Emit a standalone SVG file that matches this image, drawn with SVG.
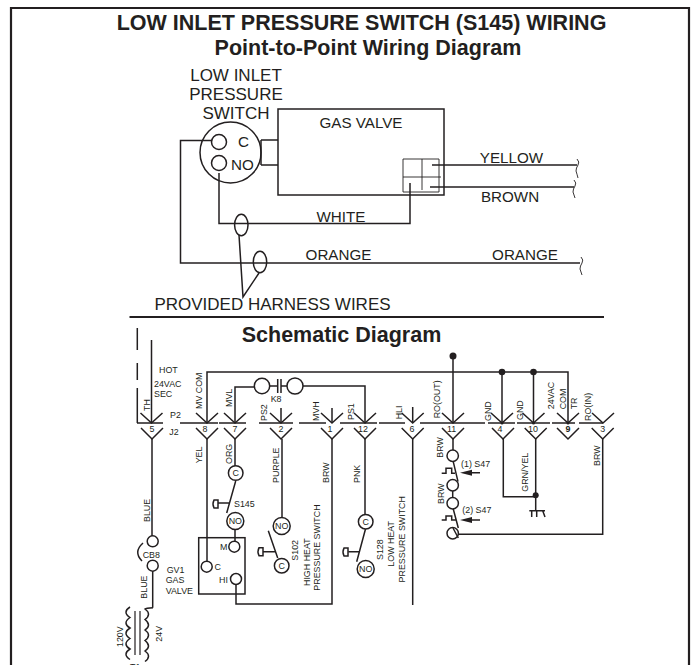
<svg xmlns="http://www.w3.org/2000/svg" width="691" height="665" viewBox="0 0 691 665">
<style>
text{font-family:"Liberation Sans",Arial,sans-serif;fill:#231f20}
.w{fill:none;stroke:#231f20;stroke-width:1.5}
.t{fill:none;stroke:#231f20;stroke-width:.9}
.c{fill:#fff;stroke:#231f20;stroke-width:1.5}
.l{font-size:15.200px}
.h{font-size:17px}
.s{font-size:8.900px}
.b{font-weight:bold;font-size:21.500px}
.d{fill:#231f20}
.a{text-anchor:middle}
</style>
<defs>
<path id="vu" class="w" d="M-11 -10L0 0L11 -10"/>
<path id="vd" class="w" d="M-11 -11L0 0L11 -11"/>
<path id="act" class="w" d="M0 0V8H-4Q-6 4 -4 0Z"/>
</defs>
<rect width="691" height="665" fill="#fff"/>
<path id="frame" fill="none" stroke="#231f20" stroke-width="2.200" d="M11 665V8H689V665"/>
<g id="titles">
<text class="b a" x="361.500" y="30">LOW INLET PRESSURE SWITCH (S145) WIRING</text>
<text class="b a" x="368" y="55">Point-to-Point Wiring Diagram</text>
<text class="b a" x="341.500" y="342">Schematic Diagram</text>
</g>
<g id="pressure-switch">
<text class="h a" x="236" y="81">LOW INLET</text>
<text class="h a" x="236" y="100">PRESSURE</text>
<text class="h a" x="236" y="119">SWITCH</text>
<circle class="w" cx="230.500" cy="152.500" r="30.500"/>
<circle class="w" cx="219" cy="142" r="7.500"/>
<circle class="w" cx="219" cy="163" r="7.500"/>
<text class="l" x="238" y="147">C</text>
<text class="l" x="231" y="170">NO</text>
<path class="w" d="M261 140H278M261 165H278M261 140V165" stroke-width="2"/>
</g>
<g id="gas-valve">
<rect class="w" x="278" y="109" width="166" height="86"/>
<text class="l a" x="361" y="128">GAS VALVE</text>
<path class="t" d="M403 159H439V192H403ZM422 159V190M403 177H441"/>
</g>
<g id="harness-wires">
<path class="w" d="M219 173V223.500H410V183"/>
<path class="w" d="M212 140.500H180.500V263H580"/>
<path class="w" d="M432 165H577M430 187H574"/>
<path class="t" d="M577 159q3 3 1 6t-2 6q1 3 2 7M574 180q3 3 1 6t-2 6q1 3 2 6M581 257q3 3 1 6t-2 6q1 3 2 6"/>
<ellipse class="w" cx="241.300" cy="225" rx="6.700" ry="10.700"/>
<ellipse class="w" cx="260" cy="262" rx="6.700" ry="10.700"/>
<path class="w" d="M239 235L243 297L259 273"/>
<path class="w" style="stroke-width:2" d="M129.500 317H604"/>
</g>
<g id="wire-labels">
<text class="l a" x="341" y="222">WHITE</text>
<text class="l a" x="338.500" y="260">ORANGE</text>
<text class="l a" x="511.500" y="163">YELLOW</text>
<text class="l a" x="510" y="202">BROWN</text>
<text class="l a" x="525" y="260">ORANGE</text>
<text class="h a" x="272.500" y="310">PROVIDED HARNESS WIRES</text>
</g>
<g id="connectors">
<path class="w" d="M137.300 328V350M137.300 363V380M137.300 388V423"/>
<path class="w" d="M137 423H163M180 423H218M219 423H246M259 423H293M299 423H326M340 423H377M379 423H405M420 423H485M488 423H515M517 423H550M552 423H575M579 423H603"/>
<path class="w" d="M151.500 340V423M281 408V423M332 408V423M412.700 407V423M453 356V423M502 372V423M533.500 372V423M207 423V372H568V423M235 423V387H254M270 386H277M287 386H281M303 386H365V423"/>
<path class="w" d="M152 439V536M152.700 571V607.700M207 439V561M235 439V466M235 529.500V541M282 439V518M332 439V604H236V584M365 439V514.500M412.700 439V605M453 439V450M503.300 439V496.700H535.700M535.700 439V510.700M602.700 439V534.300H458"/>
<path class="w" d="M235.700 481L226.700 513M218 503H229M268.300 530.700L277.700 558M263 551.700H275M365.500 529L356.700 561.700M348.300 551.700H360M453 460.700L458 481.700M453 508L458.300 528M441.700 473.300H446V468.300H451.700V473.300H455M441.700 520H446V516H451.700V520H456"/>
<path class="w" d="M277.700 379V393M281 379V393M529.300 510.700H545M531.700 510.700V517M536.700 510.700V517M542.700 510.700L545 517"/>
<path class="w" d="M143 543Q133 552 142 561"/>
<path class="w" d="M153 607.700Q146 608 145 609Q152 614 145 619.500Q152 625 145 630Q152 635 145 640.500Q152 646 145 651Q152 656 145 661.500"/>
<path class="w" d="M130 607Q122 612 130 617.500Q122 623 130 628Q122 633 130 638.500Q122 644 130 649Q122 654 130 659.500"/>
<path class="w" style="stroke-width:1.200" d="M135 611V655M140 611V655"/>
<path class="w" d="M470 472.700H480M470 520H480"/>
<polygon class="d" points="460,472.700 472,469.700 472,475.700"/>
<polygon class="d" points="460,520 472,517 472,523"/>
<use href="#act" x="218" y="500"/>
<use href="#act" x="263" y="547.700"/>
<use href="#act" x="348" y="548"/>
<circle class="d" cx="453" cy="356" r="3.500"/>
<circle class="d" cx="502" cy="372" r="3.300"/>
<circle class="d" cx="533.500" cy="372" r="3.300"/>
<circle class="d" cx="535.700" cy="495.300" r="3"/>
<circle class="d" cx="502" cy="423" r="1.500"/>
<circle class="d" cx="533.500" cy="423" r="1.500"/>
<circle class="d" cx="568" cy="423" r="1.500"/>
<use href="#vu" x="151.500" y="423"/><use href="#vu" x="207" y="423"/><use href="#vu" x="235" y="423"/><use href="#vu" x="281" y="423"/><use href="#vu" x="332" y="423"/><use href="#vu" x="365" y="423"/><use href="#vu" x="412.700" y="423"/><use href="#vu" x="453" y="423"/><use href="#vu" x="502" y="423"/><use href="#vu" x="533.500" y="423"/><use href="#vu" x="568" y="423"/><use href="#vu" x="603" y="423"/>
<use href="#vd" x="152" y="439"/><use href="#vd" x="207" y="439"/><use href="#vd" x="235" y="439"/><use href="#vd" x="281" y="439"/><use href="#vd" x="332" y="439"/><use href="#vd" x="365" y="439"/><use href="#vd" x="412.700" y="439"/><use href="#vd" x="453" y="439"/><use href="#vd" x="503" y="439"/><use href="#vd" x="535.700" y="439"/><use href="#vd" x="568" y="439"/><use href="#vd" x="602.700" y="439"/>
</g>
<g id="relay-k8"><circle class="c" cx="262" cy="386" r="7.700"/><circle class="c" cx="295" cy="386" r="8"/><text class="s" x="270.700" y="401.700">K8</text></g>
<g id="s145"><circle class="c" cx="235.700" cy="473" r="7.300"/><text class="s a" x="235.700" y="476.200">C</text><circle class="c" cx="235.300" cy="521" r="8.500"/><text class="s a" x="235.300" y="524.200">NO</text><text class="s" x="234" y="506.700">S145</text></g>
<g id="s102"><circle class="c" cx="281.700" cy="526" r="8.500"/><text class="s a" x="281.700" y="529.200">NO</text><circle class="c" cx="281.700" cy="565.700" r="7.300"/><text class="s a" x="281.700" y="568.900">C</text></g>
<g id="s128"><circle class="c" cx="365.700" cy="521.700" r="7.300"/><text class="s a" x="365.700" y="524.900">C</text><circle class="c" cx="365.700" cy="569" r="8.500"/><text class="s a" x="365.700" y="572.200">NO</text></g>
<g id="gv1">
<rect class="w" x="198.700" y="537.700" width="46.300" height="56.300"/>
<circle class="c" cx="234.300" cy="546.700" r="5.500"/><circle class="c" cx="206.700" cy="566.700" r="5.500"/><circle class="c" cx="236" cy="579" r="5.500"/>
<text class="s" x="220" y="550">M</text><text class="s" x="214.500" y="570">C</text><text class="s" x="219" y="583">HI</text>
<text class="s" x="166.700" y="573.300">GV1</text><text class="s" x="165.700" y="583.300">GAS</text><text class="s" x="165.700" y="594.300">VALVE</text>
</g>
<g id="cb8"><circle class="c" cx="152.700" cy="541.300" r="5.500"/><circle class="c" cx="152.700" cy="565.700" r="5.500"/><text class="s" x="142.700" y="557.700">CB8</text></g>
<g id="s47">
<circle class="c" cx="452.700" cy="455.700" r="5.700"/><circle class="c" cx="452.700" cy="485.300" r="5.700"/><circle class="c" cx="452.700" cy="503.300" r="5.700"/><circle class="c" cx="452.700" cy="533.300" r="5.700"/>
<path class="w" d="M452.700 491V497.600M453 528L458.300 538"/>
<text class="s" x="461" y="467.300">(1) S47</text><text class="s" x="462.300" y="513.300">(2) S47</text>
</g>
<g id="schematic-labels">
<text class="s" x="159" y="373">HOT</text><text class="s" x="154" y="386.700">24VAC</text><text class="s" x="154" y="397">SEC</text>
<text class="s" x="170" y="418.300">P2</text><text class="s" x="169.300" y="435">J2</text>
<text class="s a" x="152" y="432.300">5</text><text class="s a" x="205" y="432.300">8</text><text class="s a" x="235" y="432.300">7</text><text class="s a" x="281" y="432.300">2</text><text class="s a" x="330" y="432.300">1</text><text class="s a" x="363" y="432.300">12</text><text class="s a" x="412" y="432.300">6</text><text class="s a" x="451.500" y="432.300">11</text><text class="s a" x="500" y="432.300">4</text><text class="s a" x="533" y="432.300">10</text><text class="s a" x="568" y="432.300" font-weight="bold">9</text><text class="s a" x="602.700" y="432.300">3</text>
<text class="s" transform="rotate(-90 149.500 411)" x="149.500" y="411">TH</text>
<text class="s" transform="rotate(-90 201.700 409)" x="201.700" y="409">MV COM</text>
<text class="s" transform="rotate(-90 231.700 407)" x="231.700" y="407">MVL</text>
<text class="s" transform="rotate(-90 266.700 421)" x="266.700" y="421">PS2</text>
<text class="s" transform="rotate(-90 318.700 421)" x="318.700" y="421">MVH</text>
<text class="s" transform="rotate(-90 353.700 420)" x="353.700" y="420">PS1</text>
<text class="s" transform="rotate(-90 402.300 419.300)" x="402.300" y="419.300">HLI</text>
<text class="s" transform="rotate(-90 439.700 418.300)" x="439.700" y="418.300">RO(OUT)</text>
<text class="s" transform="rotate(-90 490.700 421)" x="490.700" y="421">GND</text>
<text class="s" transform="rotate(-90 523 420)" x="523" y="420">GND</text>
<text class="s" transform="rotate(-90 554.500 409.300)" x="554.500" y="409.300">24VAC</text>
<text class="s" transform="rotate(-90 565.700 409.300)" x="565.700" y="409.300">COM</text>
<text class="s" transform="rotate(-90 576.700 409.300)" x="576.700" y="409.300">TR</text>
<text class="s" transform="rotate(-90 590.500 421)" x="590.500" y="421">RO(IN)</text>
<text class="s" transform="rotate(-90 150 522)" x="150" y="522">BLUE</text>
<text class="s" transform="rotate(-90 147.500 598.700)" x="147.500" y="598.700">BLUE</text>
<text class="s" transform="rotate(-90 201.700 463.300)" x="201.700" y="463.300">YEL</text>
<text class="s" transform="rotate(-90 231.700 464)" x="231.700" y="464">ORG</text>
<text class="s" transform="rotate(-90 279 483)" x="279" y="483">PURPLE</text>
<text class="s" transform="rotate(-90 329.300 483)" x="329.300" y="483">BRW</text>
<text class="s" transform="rotate(-90 360 483)" x="360" y="483">PNK</text>
<text class="s" transform="rotate(-90 298.300 560.700)" x="298.300" y="560.700">S102</text>
<text class="s" transform="rotate(-90 310 586)" x="310" y="586">HIGH HEAT</text>
<text class="s" transform="rotate(-90 320.300 590.700)" x="320.300" y="590.700">PRESSURE SWITCH</text>
<text class="s" transform="rotate(-90 382.700 560)" x="382.700" y="560">S128</text>
<text class="s" transform="rotate(-90 394.300 566.700)" x="394.300" y="566.700">LOW HEAT</text>
<text class="s" transform="rotate(-90 405 582.400)" x="405" y="582.400">PRESSURE SWITCH</text>
<text class="s" transform="rotate(-90 443 457.700)" x="443" y="457.700">BRW</text>
<text class="s" transform="rotate(-90 443.700 504)" x="443.700" y="504">BRW</text>
<text class="s" transform="rotate(-90 528.300 491.700)" x="528.300" y="491.700">GRN/YEL</text>
<text class="s" transform="rotate(-90 600 466)" x="600" y="466">BRW</text>
<text class="s" transform="rotate(-90 123.300 647)" x="123.300" y="647">120V</text>
<text class="s" transform="rotate(-90 161.700 641.700)" x="161.700" y="641.700">24V</text>
<text class="s" x="130" y="670">T1</text>
</g>
</svg>
